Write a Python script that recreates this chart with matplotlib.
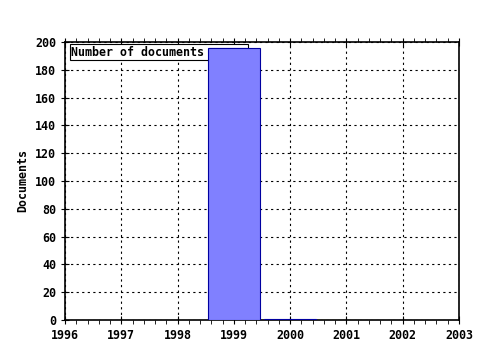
import matplotlib.pyplot as plt
from matplotlib.ticker import MultipleLocator

years = [1999, 2000]
docs = [196, 1]
series_label = "Number of documents"

plt.rcParams['font.family'] = 'DejaVu Sans Mono'
plt.rcParams['font.weight'] = 'bold'
plt.rcParams['font.size'] = 8.4

fig = plt.figure(figsize=(4.8, 3.5), dpi=100)
ax = fig.add_axes([65 / 480, 30 / 350, 394 / 480, 278 / 350])

ax.bar(years, docs, width=0.92, color="#8080ff", edgecolor="#0000a0",
       linewidth=0.8, label=series_label, zorder=3)

ax.set_xlim(1996, 2003)
ax.set_ylim(0, 200)
ax.xaxis.set_major_locator(MultipleLocator(1))
ax.xaxis.set_minor_locator(MultipleLocator(0.2))
ax.yaxis.set_major_locator(MultipleLocator(20))
ax.grid(True, which='major', linestyle=(0, (2, 3)), color='black', linewidth=0.8)
ax.tick_params(axis='x', which='major', direction='inout', length=6, top=True)
ax.tick_params(axis='x', which='minor', direction='out', length=3, top=True)
ax.tick_params(axis='y', which='major', direction='inout', length=6)
ax.set_ylabel("Documents", fontweight='bold')
for s in ax.spines.values():
    s.set_linewidth(1.2)

leg = ax.legend(loc='upper left', bbox_to_anchor=(0.012, 0.993), fancybox=False,
                framealpha=1, edgecolor='black', handlelength=3.2,
                markerfirst=False, handletextpad=0.4,
                borderpad=0.15, borderaxespad=0.0)
leg.get_frame().set_linewidth(0.8)
leg.set_zorder(2)

fig.savefig("out.png", dpi=100)
